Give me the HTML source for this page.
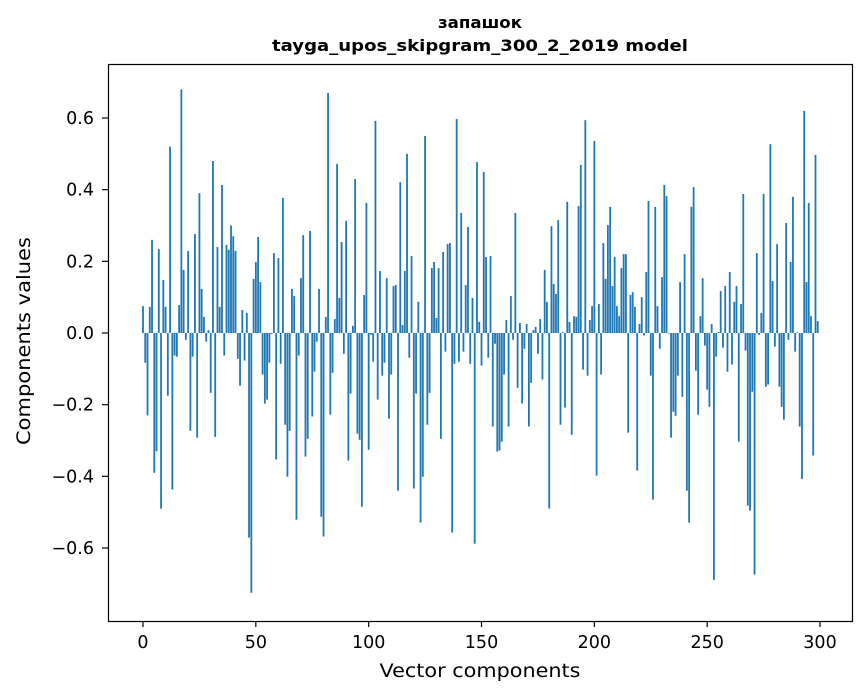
<!DOCTYPE html>
<html><head><meta charset="utf-8"><style>
html,body{margin:0;padding:0;background:#fff;}
svg{display:block;font-family:"DejaVu Sans","Liberation Sans",sans-serif;}
</style></head><body>
<svg id="chart" width="867" height="696" viewBox="0 0 867 696" xmlns="http://www.w3.org/2000/svg">
<rect width="867" height="696" fill="#fff"/>
<text x="480" y="28" text-anchor="middle" font-size="16" font-weight="bold" textLength="84" lengthAdjust="spacingAndGlyphs">запашок</text>
<text x="480" y="51" text-anchor="middle" font-size="16" font-weight="bold" textLength="416" lengthAdjust="spacingAndGlyphs">tayga_upos_skipgram_300_2_2019 model</text>
<g id="bars"></g>
<g id="axes"></g>
<rect x="108.5" y="64.5" width="744" height="557" fill="none" stroke="#000" stroke-width="1.2"/>
<text x="480" y="677" text-anchor="middle" font-size="19" textLength="201" lengthAdjust="spacingAndGlyphs">Vector components</text>
<text transform="translate(30,341) rotate(-90)" text-anchor="middle" font-size="19" textLength="208" lengthAdjust="spacingAndGlyphs">Components values</text>
</svg>
<script>
const values = [
0.075,-0.083,-0.23,0.073,0.26,-0.39,-0.33,0.234,-0.49,0.148,
0.073,-0.175,0.52,-0.437,-0.063,-0.066,0.078,0.68,0.176,-0.019,
0.229,-0.273,-0.066,0.276,-0.292,0.39,0.123,0.045,-0.024,0.008,
-0.167,0.48,-0.29,0.24,0.073,0.413,-0.063,0.246,0.232,0.3,
0.27,0.229,-0.072,-0.147,0.064,-0.077,0.056,-0.571,-0.725,0.151,
0.198,0.268,0.142,-0.116,-0.197,-0.186,-0.083,-0.003,0.223,-0.353,
0.209,-0.086,0.377,-0.256,-0.401,-0.273,0.123,0.103,-0.521,-0.063,
0.153,0.273,-0.345,-0.295,0.285,-0.233,-0.108,-0.024,0.123,-0.513,
-0.568,0.045,0.67,-0.228,-0.111,0.039,0.472,0.098,0.254,-0.058,
0.313,-0.356,-0.169,0.02,0.43,-0.281,-0.298,-0.485,0.106,0.363,
-0.326,-0.005,-0.08,0.592,-0.186,0.173,-0.119,-0.083,0.153,-0.239,
-0.116,0.131,0.134,-0.44,0.421,0.022,0.173,0.5,-0.069,0.215,
-0.434,-0.169,0.087,-0.529,-0.401,0.55,-0.256,-0.167,0.181,0.198,
0.042,0.181,-0.295,0.226,-0.052,0.248,0.251,-0.557,-0.086,0.597,
-0.08,0.335,-0.052,0.134,0.296,-0.086,0.098,-0.588,0.477,0.031,
-0.091,0.449,0.212,-0.069,0.215,-0.261,-0.03,-0.331,-0.328,-0.303,
-0.116,0.036,-0.261,0.103,-0.019,0.335,-0.153,0.028,-0.197,-0.044,
0.025,-0.261,-0.139,0.008,0.017,-0.058,0.039,-0.13,0.176,0.087,
-0.49,0.298,0.137,0.109,0.315,-0.256,0.003,-0.208,0.366,0.031,
-0.284,0.047,0.045,0.354,0.469,-0.102,0.594,-0.119,0.036,0.075,
0.536,-0.398,0.081,-0.116,0.251,0.151,0.301,0.352,0.131,0.212,
0.075,0.047,0.181,0.22,0.22,-0.278,0.106,0.114,0.073,-0.384,
0.025,0.1,-0.007,0.17,0.368,-0.119,-0.465,0.352,0.075,-0.044,
0.156,0.413,0.382,-0.002,-0.292,-0.22,-0.231,-0.119,0.142,-0.178,
0.22,-0.44,-0.529,0.352,0.407,-0.105,-0.228,0.047,0.153,-0.035,
-0.158,-0.206,0.025,-0.689,-0.066,0.003,0.117,-0.041,0.131,-0.108,
0.17,-0.088,0.087,0.131,-0.303,0.081,0.388,-0.049,-0.482,-0.496,
-0.164,-0.674,0.223,-0.005,0.056,0.388,-0.15,-0.144,0.527,0.145,
-0.038,0.248,-0.15,-0.206,-0.242,0.307,-0.019,0.198,0.38,-0.052,
0.002,-0.261,-0.407,0.62,0.142,0.363,0.047,-0.342,0.497,0.033
];
const xTicks = [0,50,100,150,200,250,300];
const yTicks = [-0.6,-0.4,-0.2,0,0.2,0.4,0.6];
const NS = "http://www.w3.org/2000/svg";
function xs(v){ return 143 + v*(820-143)/300; }
function ys(v){ return 333 - v*(548-118)/1.2; }
const bars = document.getElementById('bars');
values.forEach((v,i)=>{
  const r = document.createElementNS(NS,'rect');
  const w = xs(0.8)-xs(0);
  r.setAttribute('x', xs(i)-w/2);
  r.setAttribute('width', w);
  r.setAttribute('y', Math.min(ys(v),ys(0)));
  r.setAttribute('height', Math.abs(ys(v)-ys(0)));
  r.setAttribute('fill','#1f77b4');
  
  
  bars.appendChild(r);
});
const axes = document.getElementById('axes');
xTicks.forEach(t=>{
  const l = document.createElementNS(NS,'line');
  l.setAttribute('x1',xs(t)); l.setAttribute('x2',xs(t));
  l.setAttribute('y1',621); l.setAttribute('y2',627);
  l.setAttribute('stroke','#000'); l.setAttribute('stroke-width','1.2');
  
  
  axes.appendChild(l);
  const tx = document.createElementNS(NS,'text');
  tx.setAttribute('x',xs(t)); tx.setAttribute('y',648);
  tx.setAttribute('text-anchor','middle'); tx.setAttribute('font-size','17.5');
  tx.textContent = String(t);
  
  
  axes.appendChild(tx);
});
yTicks.forEach(t=>{
  const l = document.createElementNS(NS,'line');
  l.setAttribute('x1',102); l.setAttribute('x2',108);
  l.setAttribute('y1',ys(t)); l.setAttribute('y2',ys(t));
  l.setAttribute('stroke','#000'); l.setAttribute('stroke-width','1.2');
  
  
  axes.appendChild(l);
  const tx = document.createElementNS(NS,'text');
  tx.setAttribute('x',94); tx.setAttribute('y',ys(t)+6);
  tx.setAttribute('text-anchor','end'); tx.setAttribute('font-size','17.5');
  tx.textContent = (t<0?'\u2212':'') + Math.abs(t).toFixed(1);
  
  
  axes.appendChild(tx);
});
</script>
</body></html>
